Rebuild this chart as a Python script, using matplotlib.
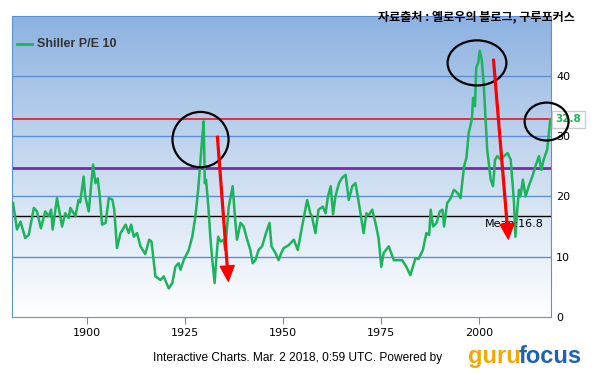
import numpy as np
import matplotlib
matplotlib.use('Agg')
import matplotlib.pyplot as plt
from matplotlib.patches import Ellipse
from matplotlib.colors import LinearSegmentedColormap

# Shiller P/E 10 (year, value)
years = [1881.2, 1882.2, 1883.1, 1884.3, 1885.2, 1886.5, 1887.3, 1888.3, 1889.4, 1890.3,
         1890.9, 1891.3, 1892.4, 1893.7, 1894.5, 1895.4, 1895.8, 1897.1, 1897.9, 1898.3,
         1899.2, 1899.6, 1900.5, 1901.6, 1902.2, 1902.8, 1903.3, 1903.9, 1904.8, 1905.6,
         1906.5, 1907.0, 1907.7, 1908.6, 1909.9, 1910.7, 1911.3, 1912.0, 1912.8, 1913.7,
         1914.9, 1915.9, 1916.5, 1917.5, 1918.8, 1919.6, 1920.9, 1921.8, 1922.6, 1923.4,
         1923.9, 1924.7, 1926.0, 1926.9, 1927.7, 1928.4, 1929.0, 1929.4, 1929.8, 1930.1,
         1930.4, 1931.0, 1931.5, 1932.0, 1932.6, 1933.0, 1933.5, 1934.1, 1934.9, 1935.3,
         1936.2, 1937.2, 1937.9, 1938.3, 1939.2, 1940.0, 1940.9, 1941.7, 1942.3, 1943.0,
         1943.8, 1944.7, 1945.7, 1946.6, 1947.1, 1948.1, 1948.9, 1949.6, 1950.2, 1951.5,
         1952.8, 1953.8, 1954.9, 1956.2, 1957.0, 1957.4, 1958.3, 1959.1, 1960.2, 1960.9,
         1961.5, 1962.2, 1962.8, 1963.4, 1964.3, 1965.1, 1966.0, 1966.8, 1967.7, 1968.5,
         1969.1, 1969.8, 1970.6, 1971.3, 1971.9, 1972.8, 1973.6, 1974.4, 1975.1, 1975.7,
         1977.0, 1978.3, 1979.1, 1980.4, 1981.5, 1982.5, 1983.8, 1984.6, 1985.7, 1986.6,
         1987.3, 1987.7, 1988.3, 1989.2, 1990.0, 1990.7, 1991.1, 1991.9, 1992.8, 1993.6,
         1994.5, 1995.3, 1996.2, 1996.8, 1997.4, 1998.2, 1998.5, 1999.0, 1999.3, 1999.8,
         2000.2, 2000.7, 2001.2, 2001.7, 2002.1, 2002.7, 2003.0, 2003.6, 2004.1, 2004.7,
         2005.6, 2006.4, 2007.3, 2008.1, 2008.5, 2008.9, 2009.3, 2009.7, 2010.2, 2010.6,
         2011.2, 2011.9, 2012.7, 2013.6, 2014.4, 2015.3, 2015.9, 2016.5, 2017.4, 2018.2]
pe = [18.9, 14.5, 15.8, 13.1, 13.6, 18.1, 17.5, 14.7, 17.5, 16.7,
      17.8, 14.5, 19.7, 15.0, 17.2, 16.4, 18.1, 16.7, 19.4, 19.0,
      23.3, 20.0, 17.5, 25.3, 22.2, 23.0, 20.0, 15.3, 15.6, 19.7,
      19.5, 17.8, 11.4, 13.9, 15.3, 13.9, 15.3, 13.3, 13.9, 11.7,
      10.4, 12.8, 12.5, 6.7, 6.1, 6.7, 4.7, 5.6, 8.3, 8.9,
      7.8, 9.4, 11.1, 13.3, 16.7, 21.1, 26.1, 29.4, 32.5, 22.2,
      22.8, 18.3, 13.3, 9.4, 5.6, 9.4, 13.3, 12.5, 12.8, 11.1,
      18.3, 21.7, 15.6, 12.8, 15.6, 15.0, 12.8, 11.1, 8.9, 9.4,
      11.1, 11.7, 13.9, 15.6, 11.7, 10.6, 9.4, 10.6, 11.4, 11.9,
      12.8, 11.1, 15.0, 19.4, 17.2, 16.7, 13.9, 17.8, 18.3, 17.2,
      20.0, 21.7, 17.0, 20.0, 22.2, 23.1, 23.6, 19.4, 21.7, 22.2,
      20.0, 17.2, 13.9, 17.2, 16.9, 17.8, 15.6, 13.1, 8.3, 10.6,
      11.7, 9.4, 9.4, 9.4, 8.3, 6.9, 9.7, 9.6, 11.1, 13.9,
      13.6, 17.8, 15.0, 15.6, 17.5, 17.8, 15.0, 18.9, 19.7, 21.1,
      20.6, 19.7, 25.0, 26.4, 30.6, 32.8, 36.4, 35.0, 41.4, 42.2,
      44.2, 42.8, 38.9, 32.8, 27.8, 24.4, 22.8, 21.7, 26.1, 26.7,
      26.1, 26.7, 27.2, 26.1, 22.8, 19.4, 13.3, 17.2, 21.1, 20.0,
      22.8, 20.0, 21.7, 23.3, 25.0, 26.7, 24.4, 26.1, 27.8, 32.8]

mean_pe = 16.8
current_pe = 32.8
upper_pe = 24.8
x_ticks = [1900, 1925, 1950, 1975, 2000]
y_ticks = [0, 10, 20, 30, 40]

fig = plt.figure(figsize=(6.02, 3.75), dpi=100)
ax = fig.add_axes([0.0204, 0.1555, 0.8944, 0.8018])
ax.set_xlim(1881.0, 2018.3)
ax.set_ylim(0, 50)

# blue-to-white gradient background
cmap = LinearSegmentedColormap.from_list('bg', ['#ffffff', '#c9dbf0', '#8db2e1'])
grad = np.linspace(0, 1, 256).reshape(-1, 1)
ax.imshow(grad, cmap=cmap, aspect='auto', origin='lower',
          extent=[0, 1, 0, 1], transform=ax.transAxes, zorder=0)

for v in [10, 20, 30, 40]:
    ax.axhline(v, color='#5f8fd3', lw=1, zorder=1)
ax.axhline(current_pe, color='#ff0000', lw=1.1, zorder=2)
ax.axhline(upper_pe, color='#7030a0', lw=2, zorder=2)
ax.axhline(mean_pe, color='black', lw=1, zorder=2)

ax.plot(years, pe, color='#1db35c', lw=1.8, zorder=3)

for s in ax.spines.values():
    s.set_color('#5f8fd3')
ax.yaxis.tick_right()
ax.set_yticks(y_ticks)
ax.set_xticks(x_ticks)
ax.tick_params(axis='y', length=0, pad=4, labelsize=8)
ax.tick_params(axis='x', length=5, color='#5f8fd3', labelsize=8, pad=3)

ax.text(2016.5, mean_pe - 0.5, 'Mean:16.8', ha='right', va='top', fontsize=8, zorder=4)

# legend
ax.plot([1882.3, 1886.0], [45.4, 45.4], color='#1db35c', lw=2, zorder=4)
ax.text(1887.3, 45.4, 'Shiller P/E 10', fontsize=9, fontweight='bold', color='#333333',
        va='center', ha='left', family='Liberation Sans', zorder=4)

# current value label
ax.text(2019.6, current_pe, '32.8', color='#1db35c', fontsize=7.5, fontweight='bold',
        va='center', ha='left', clip_on=False,
        bbox=dict(boxstyle='square,pad=0.35', fc='white', ec='#cccccc', lw=1))

# annotations: circles and arrows
for cx, cy, w, h in [(1929.0, 29.45, 14.3, 9.2), (1999.5, 42.2, 15.0, 7.5), (2017.25, 32.45, 11.2, 6.3)]:
    ax.add_patch(Ellipse((cx, cy), w, h, fill=False, ec='black', lw=1.6, zorder=5, clip_on=False))
for x0, y0, x1, y1 in [(1933.3, 30.0, 1936.1, 5.9), (2003.7, 42.8, 2007.5, 12.9)]:
    ax.annotate('', xy=(x1, y1), xytext=(x0, y0), zorder=5,
                arrowprops=dict(facecolor='#ff0000', edgecolor='#ff0000', width=1.3,
                                headwidth=10, headlength=11, shrink=0))

fig.text(0.955, 0.955, '자료출처 : 옐로우의 블로그, 구루포커스', ha='right', va='center',
         fontsize=8.7, fontweight='bold', family=['Noto Sans CJK KR', 'DejaVu Sans'])
fig.text(0.254, 0.045, 'Interactive Charts. Mar. 2 2018, 0:59 UTC. Powered by',
         ha='left', va='center', fontsize=8.6, family='Liberation Sans')
fig.text(0.777, 0.05, 'guru', ha='left', va='center', fontsize=17, fontweight='bold',
         color='#f5a800', family='Liberation Sans')
fig.text(0.966, 0.05, 'focus', ha='right', va='center', fontsize=17, fontweight='bold',
         color='#1f62b5', family='Liberation Sans')

fig.savefig('out.png', dpi=100)
